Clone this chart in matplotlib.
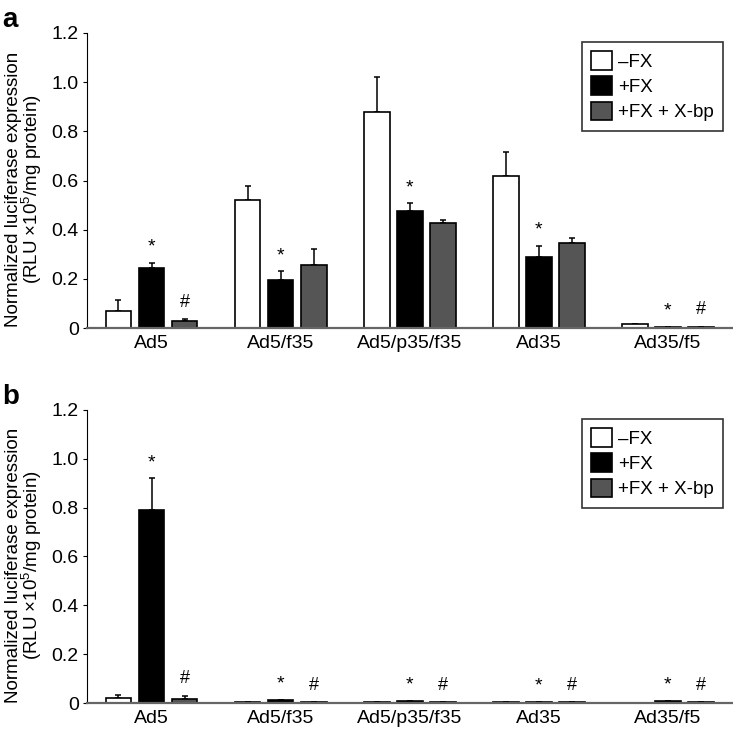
import numpy as np
import matplotlib
matplotlib.use("Agg")
import matplotlib.pyplot as plt

plt.rcParams['font.family'] = ['Liberation Sans', 'DejaVu Sans']
plt.rcParams['mathtext.fontset'] = 'custom'
plt.rcParams['mathtext.rm'] = 'Liberation Sans'
plt.rcParams['mathtext.it'] = 'Liberation Sans'

# dane
kategorie = ["Ad5", "Ad5/f35", "Ad5/p35/f35", "Ad35", "Ad35/f5"]
serie = ["\u2013FX", "+FX", "+FX + X-bp"]

# panel a
a_bez_fx = [0.07, 0.52, 0.88, 0.62, 0.015]
a_bez_fx_err = [0.042, 0.057, 0.14, 0.095, 0.003]
a_fx = [0.245, 0.195, 0.475, 0.288, 0.005]
a_fx_err = [0.02, 0.035, 0.032, 0.047, 0.001]
a_fx_xbp = [0.03, 0.258, 0.426, 0.345, 0.003]
a_fx_xbp_err = [0.005, 0.062, 0.012, 0.022, 0.001]
a_gwiazdki = ["*", "*", "*", "*", "*"]
a_krzyzyki = ["#", "", "", "", "#"]

# panel b
b_bez_fx = [0.02, 0.003, 0.003, 0.003, 0.002]
b_bez_fx_err = [0.013, 0.0, 0.0, 0.0, 0.0]
b_fx = [0.79, 0.012, 0.008, 0.004, 0.007]
b_fx_err = [0.13, 0.001, 0.001, 0.001, 0.001]
b_fx_xbp = [0.018, 0.003, 0.003, 0.003, 0.003]
b_fx_xbp_err = [0.012, 0.0, 0.0, 0.0, 0.0]
b_gwiazdki = ["*", "*", "*", "*", "*"]
b_krzyzyki = ["#", "#", "#", "#", "#"]

kolory = ["white", "black", "#555555"]


def panel(ax, wartosci, bledy, gwiazdki, krzyzyki, litera):
    x = np.arange(len(kategorie))
    szer = 0.2
    odst = 0.256
    for i, (w, e) in enumerate(zip(wartosci, bledy)):
        pos = x + (i - 1) * odst
        ax.bar(pos, w, szer, color=kolory[i], edgecolor="black",
               linewidth=1.2, label=serie[i], zorder=2)
        ax.errorbar(pos, w, yerr=[np.zeros(len(e)), e], fmt="none",
                    ecolor="black", elinewidth=1.1, capsize=2.5,
                    capthick=1.1, zorder=1)
    for j in range(len(kategorie)):
        if gwiazdki[j]:
            y = wartosci[1][j] + bledy[1][j] + 0.03
            ax.text(x[j], y, gwiazdki[j], ha="center", va="bottom",
                    fontsize=14)
        if krzyzyki[j]:
            y = wartosci[2][j] + bledy[2][j] + 0.035
            ax.text(x[j] + odst, y, krzyzyki[j], ha="center", va="bottom",
                    fontsize=13)
    ax.set_xlim(-0.5, 4.5)
    ax.set_ylim(0, 1.2)
    ax.set_yticks([0, 0.2, 0.4, 0.6, 0.8, 1.0, 1.2])
    ax.set_yticklabels(["0", "0.2", "0.4", "0.6", "0.8", "1.0", "1.2"],
                       fontsize=14)
    ax.set_xticks(x)
    ax.set_xticklabels(kategorie, fontsize=14)
    ax.tick_params(axis="x", length=0, pad=5)
    ax.tick_params(axis="y", length=3, width=0.8, pad=3)
    ax.spines["top"].set_visible(False)
    ax.spines["right"].set_visible(False)
    ax.spines["left"].set_linewidth(0.8)
    ax.spines["bottom"].set_color("#666666")
    ax.spines["bottom"].set_linewidth(1.6)
    ax.set_ylabel("Normalized luciferase expression\n"
                  r"(RLU $\times$10$^5$/mg protein)", fontsize=13.5,
                  linespacing=0.9)
    ax.yaxis.set_label_coords(-0.066, 0.47)
    leg = ax.legend(loc="upper right", bbox_to_anchor=(0.986, 0.97),
                    fontsize=13.5, frameon=True, fancybox=False,
                    edgecolor="black", handlelength=1.15, handleheight=1.15,
                    handletextpad=0.3, labelspacing=0.3, borderpad=0.5,
                    borderaxespad=0.0)
    leg.get_frame().set_linewidth(1.2)
    ax.text(-0.131, 1.02, litera, transform=ax.transAxes, fontsize=20,
            fontweight="bold", va="baseline", ha="left")


fig = plt.figure(figsize=(7.33, 7.33), dpi=100)
ax1 = fig.add_axes([0.1187, 0.5525, 0.8803, 0.4025])
ax2 = fig.add_axes([0.1187, 0.0409, 0.8803, 0.3998])

panel(ax1, [a_bez_fx, a_fx, a_fx_xbp], [a_bez_fx_err, a_fx_err, a_fx_xbp_err],
      a_gwiazdki, a_krzyzyki, "a")
panel(ax2, [b_bez_fx, b_fx, b_fx_xbp], [b_bez_fx_err, b_fx_err, b_fx_xbp_err],
      b_gwiazdki, b_krzyzyki, "b")

plt.savefig("out.png", dpi=100)
